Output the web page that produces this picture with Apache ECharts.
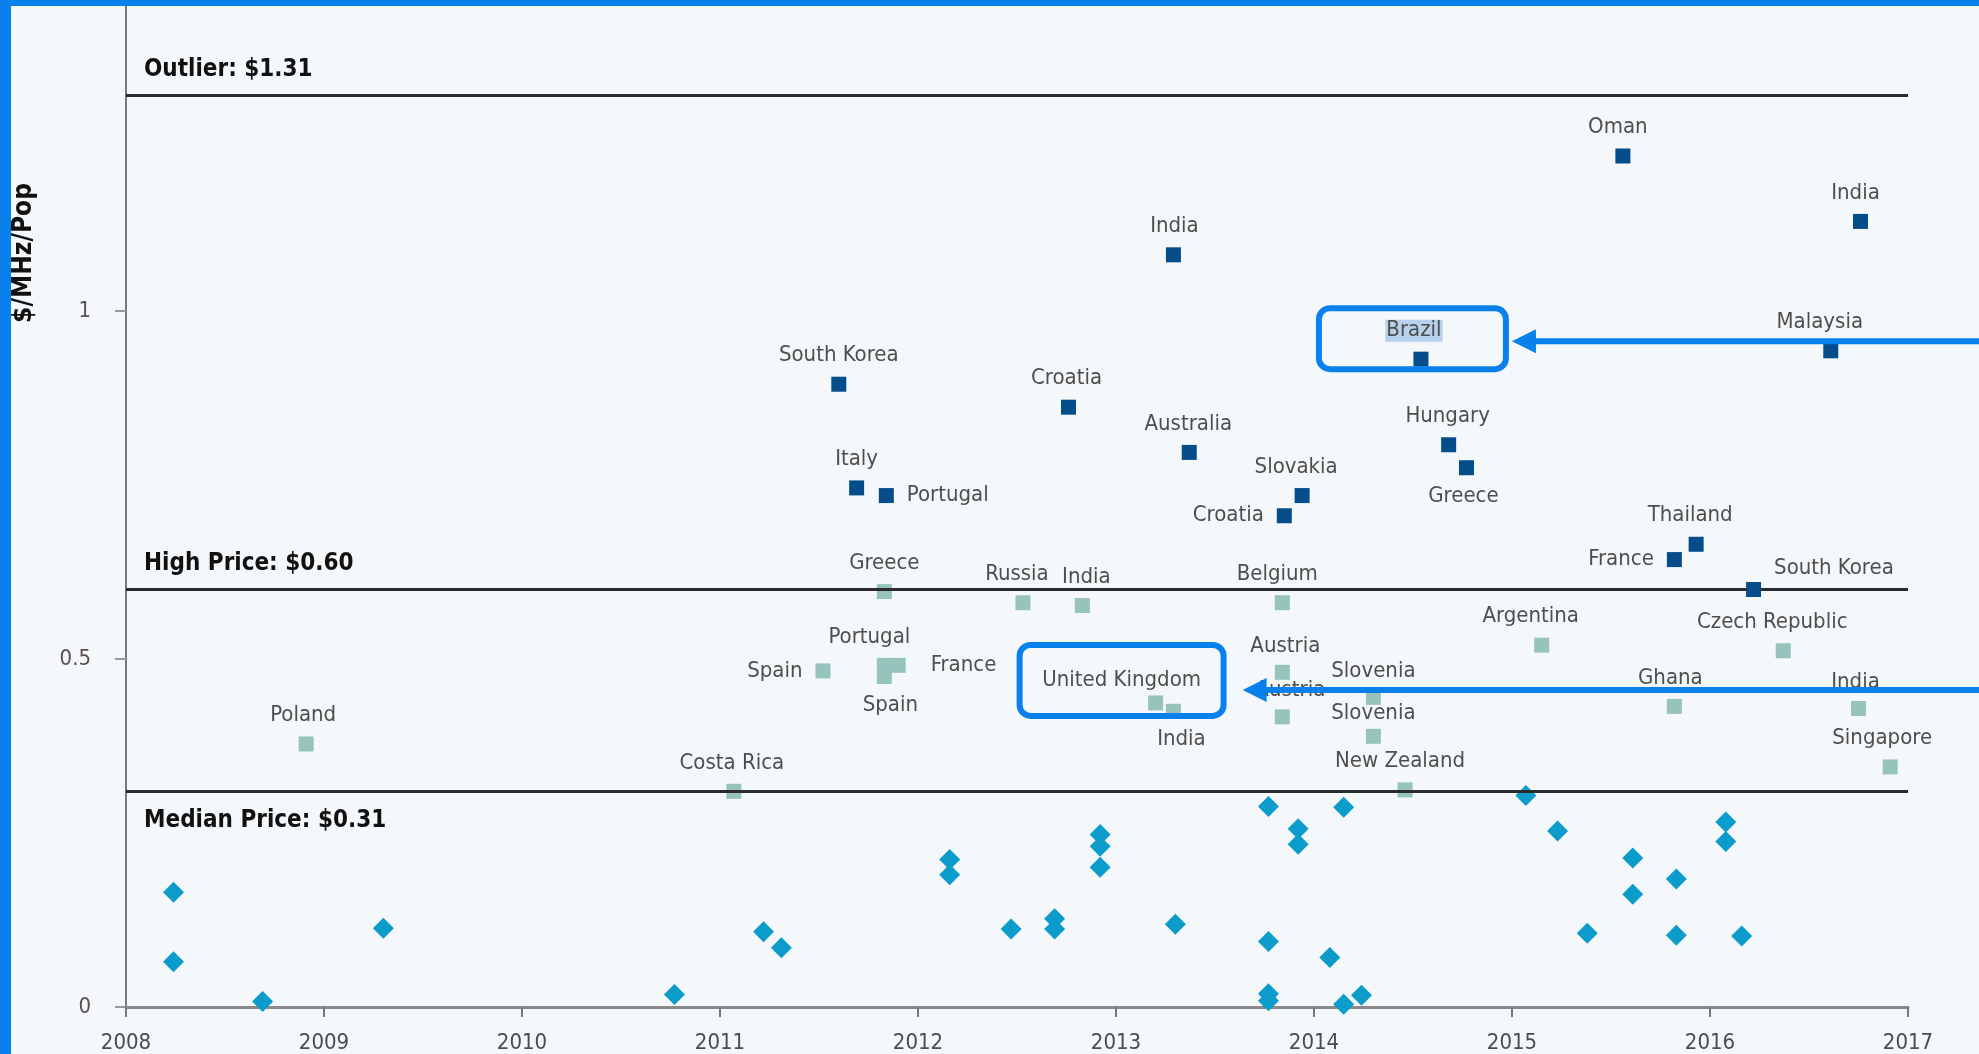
<!DOCTYPE html>
<html><head><meta charset="utf-8">
<script src="https://cdn.jsdelivr.net/npm/echarts@6/dist/echarts.min.js"></script>
<style>html,body{margin:0;padding:0;background:#F5F8FA;overflow:hidden}#chart{width:1979px;height:1054px}</style>
</head><body><div id="chart"></div>
<script>
// ---- Data ----
// Deals above the high-price line (dark blue squares)
const highCountries = ['South Korea','Italy','Portugal','Croatia','India','Australia','Slovakia','Croatia','Brazil','Hungary','Greece','Oman','India','Malaysia','Thailand','France','South Korea'];
const highYears  = [2011.60,2011.69,2011.84,2012.76,2013.29,2013.37,2013.94,2013.85,2014.54,2014.68,2014.77,2015.56,2016.76,2016.61,2015.93,2015.82,2016.22];
const highPrices = [0.895,0.746,0.735,0.862,1.081,0.797,0.735,0.706,0.931,0.808,0.775,1.223,1.129,0.943,0.665,0.643,0.600];

// Deals between median and high price (light teal squares)
const midCountries = ['Poland','Costa Rica','Greece','Spain','Portugal','France','Spain','Russia','India','Belgium','United Kingdom','India','Austria','Austria','Slovenia','Slovenia','New Zealand','Argentina','Czech Republic','Ghana','India','Singapore'];
const midYears  = [2008.91,2011.07,2011.83,2011.52,2011.83,2011.90,2011.83,2012.53,2012.83,2013.84,2013.20,2013.29,2013.84,2013.84,2014.30,2014.30,2014.46,2015.15,2016.37,2015.82,2016.75,2016.91];
const midPrices = [0.378,0.310,0.597,0.483,0.491,0.491,0.475,0.581,0.577,0.581,0.437,0.425,0.481,0.417,0.445,0.389,0.312,0.520,0.512,0.432,0.429,0.345];

// Deals below the median (cyan diamonds)
const lowYears  = [2008.24,2008.24,2008.69,2009.30,2010.77,2011.22,2011.31,2012.16,2012.16,2012.47,2012.69,2012.69,2012.92,2012.92,2012.92,2013.30,2013.77,2013.77,2013.77,2013.77,2013.92,2013.92,2014.08,2014.15,2014.15,2014.24,2015.07,2015.23,2015.38,2015.61,2015.61,2015.83,2015.83,2016.08,2016.08,2016.16];
const lowPrices = [0.165,0.065,0.008,0.113,0.018,0.108,0.085,0.212,0.190,0.112,0.127,0.112,0.248,0.231,0.201,0.119,0.288,0.094,0.019,0.009,0.256,0.234,0.071,0.287,0.004,0.017,0.304,0.253,0.106,0.214,0.162,0.184,0.103,0.266,0.238,0.102];

// Reference lines
const refLabels = ['Outlier: $1.31','High Price: $0.60','Median Price: $0.31'];
const refValues = [1.31, 0.60, 0.31];

// Axes
const yTickValues = [0, 0.5, 1];
const yTickLabels = ['0', '0.5', '1'];
const xTickLabels = ['2008','2009','2010','2011','2012','2013','2014','2015','2016','2017'];
const yAxisTitle = '$/MHz/Pop';

// Highlighted annotations (index into series)
const highlightHigh = 8;   // Brazil
const highlightMid = 10;   // United Kingdom

// ---- Label placement (style only) ----
const highLabelPlace = [
  ['top',0,0],['top',0,0],['right',0,0],['top',-2,0],['top',1,0],['top',-1,0],['top',-6,0],['left',0,0],
  ['top',-7,0],['top',-1,0],['bottom',-3,0],['top',-5,0],['top',-5,0],['top',-11,0],['top',-6,0],['left',0,0],['right',0,-21]
];
const midLabelPlace = [
  ['top',-3,0],['top',-2,0],['top',0,0],['left',0,0],['top',-15,0],['right',12,0],['bottom',6,0],['top',-6,0],['top',4,0],
  ['top',-5,0],['top',-34,6],['bottom',8,0],['top',3,2],['top',8,2],['top',0,2],['top',0,5],['top',-5,0],['top',-11,0],
  ['top',-11,0],['top',-4,0],['top',-3,2],['top',-8,0]
];

const NARROW = "'Liberation Sans Narrow','Arial Narrow','DejaVu Sans Condensed',sans-serif";
const labelBase = {show:true, fontFamily:NARROW, fontSize:22, color:'#4e4e4e', distance:10};

function makeItems(years, prices, names, place, hi) {
  return years.map((x, i) => {
    const p = place[i];
    const lab = Object.assign({}, labelBase, {position:p[0], offset:[p[1], p[2]], formatter:names[i]});
    if (p[0] === 'left' || p[0] === 'right') lab.distance = 13;
    if (i === hi) { lab.backgroundColor = 'rgba(130,175,225,0.55)'; lab.padding = [0,1,0,1]; }
    return {value:[x, prices[i]], name:names[i], label:lab};
  });
}

const chart = echarts.init(document.getElementById('chart'), null, {renderer:'canvas'});

const option = {
  backgroundColor:'#F5F8FA',
  animation:false,
  grid:{left:126, right:71, top:5, bottom:44, containLabel:false},
  xAxis:{
    type:'value', min:2008, max:2017, interval:1,
    axisLine:{show:true, onZero:false, lineStyle:{color:'#8a8a8a', width:3}},
    axisTick:{show:true, length:10, inside:false, lineStyle:{color:'#777', width:2}},
    axisLabel:{fontFamily:NARROW, fontSize:22, color:'#4a4a58', margin:25,
      formatter:v => xTickLabels[Math.round(v - 2008)] || ''},
    splitLine:{show:false}
  },
  yAxis:{
    type:'value', min:0, max:1.44,
    axisLine:{show:true, lineStyle:{color:'#7a7a7a', width:2}},
    axisTick:{show:true, length:11, customValues:yTickValues, lineStyle:{color:'#999', width:2}},
    axisLabel:{customValues:yTickValues, fontFamily:NARROW, fontSize:22, color:'#5a5050', margin:35,
      formatter:v => { const k = yTickValues.indexOf(Math.round(v*100)/100); return k >= 0 ? yTickLabels[k] : ''; }},
    splitLine:{show:false}
  },
  series:[
    {
      type:'scatter', name:'Median and below', symbol:'diamond', symbolSize:21,
      itemStyle:{color:'#0B9CCB', opacity:1}, z:3,
      data:lowYears.map((x,i)=>[x, lowPrices[i]]),
      markLine:{
        silent:true, symbol:['none','none'], animation:false,
        lineStyle:{color:'#2b2b2b', width:3, type:'solid'},
        data:refValues.map((v,i)=>({
          yAxis:v, name:refLabels[i],
          label:{show:true, formatter:'{b}', position: i===2 ? 'insideStartBottom' : 'insideStartTop',
            fontFamily:NARROW, fontWeight:'bold', fontSize:24, color:'#111', distance:[18, i===2 ? 17 : 14]}
        }))
      }
    },
    {
      type:'scatter', name:'Above median', symbol:'rect', symbolSize:15,
      itemStyle:{color:'#96C4BD', opacity:1}, z:4,
      data:makeItems(midYears, midPrices, midCountries, midLabelPlace, -1)
    },
    {
      type:'scatter', name:'High price', symbol:'rect', symbolSize:15,
      itemStyle:{color:'#044D8A', opacity:1}, z:5,
      data:makeItems(highYears, highPrices, highCountries, highLabelPlace, highlightHigh)
    }
  ]
};
chart.setOption(option);

// ---- Annotation overlays (positioned from data through the chart's scales) ----
const BLUE = '#0A80EC';
const pB = chart.convertToPixel({gridIndex:0}, [highYears[highlightHigh], highPrices[highlightHigh]]);
const pU = chart.convertToPixel({gridIndex:0}, [midYears[highlightMid], midPrices[highlightMid]]);
function arrow(tipX, y) {
  return [
    {type:'line', z:200, shape:{x1:tipX+18, y1:y, x2:1979, y2:y}, style:{stroke:BLUE, lineWidth:6}},
    {type:'polygon', z:200, shape:{points:[[tipX, y],[tipX+24, y-12],[tipX+24, y+12]]}, style:{fill:BLUE}}
  ];
}
const boxB = {x:pB[0]-102, y:pB[1]-51, w:187, h:61};
const boxU = {x:pU[0]-136, y:pU[1]-58, w:204, h:71};
chart.setOption({
  graphic:[
    {type:'rect', z:200, shape:{x:boxB.x, y:boxB.y, width:boxB.w, height:boxB.h, r:11}, style:{fill:null, stroke:BLUE, lineWidth:6}},
    {type:'rect', z:200, shape:{x:boxU.x, y:boxU.y, width:boxU.w, height:boxU.h, r:11}, style:{fill:null, stroke:BLUE, lineWidth:6}},
    ...arrow(boxB.x + boxB.w + 6, pB[1]-18),
    ...arrow(boxU.x + boxU.w + 19, pU[1]-13),
    {type:'text', z:100, x:24, y:253, rotation:Math.PI/2,
      style:{text:yAxisTitle, fontFamily:NARROW, fontWeight:'bold', fontSize:26, fill:'#111', align:'center', verticalAlign:'middle'}},
    {type:'rect', z:300, shape:{x:0, y:0, width:1979, height:6}, style:{fill:BLUE}},
    {type:'rect', z:300, shape:{x:0, y:0, width:11, height:1054}, style:{fill:BLUE}}
  ]
});
</script>
</body></html>
